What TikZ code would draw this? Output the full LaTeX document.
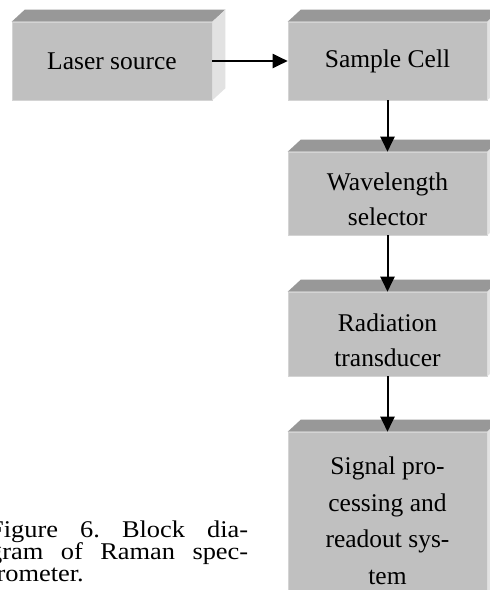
\documentclass[tikz,border=0pt]{standalone}
\usepackage{fontspec}
\setmainfont{Liberation Serif}
\newfontfamily\capfont{Liberation Serif}[FakeStretch=1.1]
\usetikzlibrary{arrows.meta,calc}
\definecolor{frontc}{RGB}{192,192,192}
\definecolor{topc}{RGB}{152,152,152}
\definecolor{sidec}{RGB}{226,226,226}
\definecolor{edgec}{RGB}{212,212,212}
\frenchspacing
\tikzset{
  face/.style={rectangle, fill=frontc, draw=edgec, line width=0.6pt, inner sep=0pt,
    font=\fontsize{25.5}{35}\selectfont, align=center},
  boxtext/.style={inner sep=0pt, font=\fontsize{25.5}{35}\selectfont, align=center},
  sigtextstyle/.style={inner sep=0pt, font=\fontsize{25.5}{36.5}\selectfont, align=center},
  conn/.style={draw=black, line width=2pt, -{Triangle[length=15pt,width=14pt]}},
  captxt/.style={anchor=base west, inner sep=0pt, font=\capfont\fontsize{24}{22}\selectfont}
}
\newcommand\boxfaces[1]{%
  \fill[topc] (#1.north west) -- ++(13,-12) -- ($(#1.north east)+(13,-12)$) -- (#1.north east) -- cycle;
  \fill[sidec] (#1.north east) -- ++(13,-12) -- ($(#1.south east)+(13,-12)$) -- (#1.south east) -- cycle;
}
\begin{document}
\begin{tikzpicture}[x=1pt,y=-1pt]
\useasboundingbox (0,0) rectangle (490,590);
\fill[white] (0,0) rectangle (490,590);
\clip (0,0) rectangle (490,590);

\node[face, minimum width=200pt, minimum height=78pt] (laser) at (112,61) {Laser source};
\boxfaces{laser}
\node[face, minimum width=199pt, minimum height=78pt] (cell) at (387.5,61) {Sample Cell};
\boxfaces{cell}
\node[face, minimum width=199pt, minimum height=83pt] (wave) at (387.5,193.5) {};
\boxfaces{wave}
\node[boxtext] (wavetext) at (387.5,199) {Wavelength\\selector};
\node[face, minimum width=199pt, minimum height=84pt] (rad) at (387.5,334) {};
\boxfaces{rad}
\node[boxtext] (radtext) at (387.5,340) {Radiation\\transducer};
\node[face, minimum width=199pt, minimum height=200pt] (sig) at (387.5,532) {};
\boxfaces{sig}
\node[sigtextstyle] (sigtext) at (387.5,521) {Signal pro-\\cessing and\\readout sys-\\tem};

\draw[conn] (laser.east) -- (cell.west);
\draw[conn] (cell.south) -- (wave.north);
\draw[conn] (wave.south) -- (rad.north);
\draw[conn] (rad.south) -- (sig.north);

\node[captxt] (cap1) at (-11,537.5) {\makebox[259pt][s]{Figure 6. Block dia-}};
\node[captxt] (cap2) at (-11,559.5) {\makebox[259pt][s]{gram of Raman spec-}};
\node[captxt] (cap3) at (-11,581.5) {trometer.};
\end{tikzpicture}
\end{document}
